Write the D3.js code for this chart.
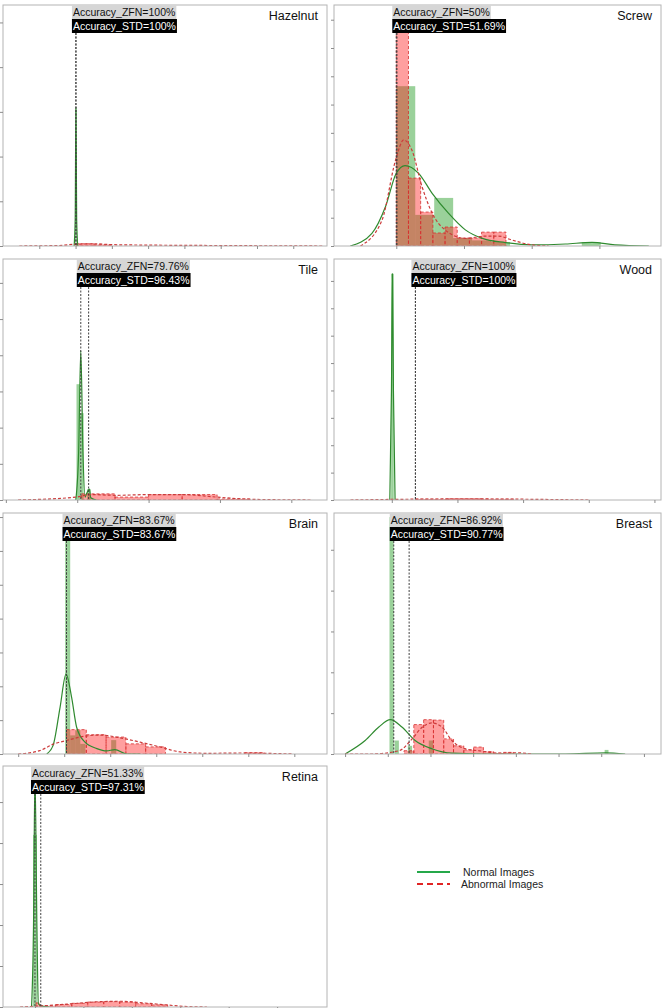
<!DOCTYPE html>
<html lang="en">
<head>
<meta charset="utf-8">
<script src="https://d3js.org/d3.v7.min.js"></script>
<style>
body { margin: 0; background: #fff; }
svg { display: block; font-family: "Liberation Sans", Arial, sans-serif; }
.frame { fill: none; stroke: #b4b4b4; stroke-width: 1; }
.axis path { display: none; }
.axis line { stroke: #8c8c8c; }
</style>
</head>
<body>
<svg id="chart" width="664" height="1008"></svg>
<script>
// panels, left to right then top to bottom
var panelNames = ["Hazelnut", "Screw", "Tile", "Wood", "Brain", "Breast", "Retina"];
var accZFN = ["100%", "50%", "79.76%", "100%", "83.67%", "86.92%", "51.33%"];
var accSTD = ["100%", "51.69%", "96.43%", "100%", "83.67%", "90.77%", "97.31%"];
// threshold positions (x units of each panel)
var thrZFN = [2.01, 0.0, 1.05, 1.36, 1.05, 1.14, 0.0];
var thrSTD = [2.01, 0.01, 1.16, 1.36, 1.05, 1.50, 0.12];

var xDomains = [[0, 8.93], [-0.92, 3.91], [-0.04, 4.5], [0.12, 5.1], [-0.33, 6.71], [-0.26, 7.4], [-0.66, 6.03]];
var yMax = [5.39, 8.52, 6.66, 8.8, 7.12, 5.9, 5.88];
var xTicks = [[1, 2, 3, 4, 5, 6, 7, 8], [0, 1, 2, 3], [0, 1, 2, 3, 4], [1, 2, 3, 4, 5],
              [0, 1, 2, 3, 4, 5, 6], [0, 1, 2, 3, 4, 5, 6, 7], [0, 1, 2, 3, 4, 5]];

// histogram bins: [x0, x1, height]
var hazelnutNormal = [[1.99, 2.03, 3.05]];
var hazelnutAbnormal = [[2.02, 2.5, 0.05], [2.5, 3.0, 0.03]];
var screwNormal = [[0, 0.28, 5.65], [0.28, 0.56, 1.1], [0.56, 0.84, 1.7], [0.84, 1.12, 0.28],
                   [1.12, 1.40, 0.2], [1.40, 1.68, 0.14], [2.74, 3.02, 0.14]];
var screwAbnormal = [[0, 0.18, 7.7], [0.18, 0.36, 2.4], [0.36, 0.54, 1.2], [0.54, 0.72, 0.46],
                     [0.72, 0.90, 0.67], [0.90, 1.08, 0.28], [1.08, 1.26, 0.28], [1.26, 1.44, 0.49], [1.44, 1.62, 0.49]];
var tileNormal = [[0.99, 1.04, 3.2], [1.04, 1.09, 2.4], [1.14, 1.19, 0.3]];
var tileAbnormal = [[1.06, 1.53, 0.17], [1.53, 2.0, 0.08], [2.0, 2.47, 0.15], [2.47, 2.96, 0.15], [2.96, 3.42, 0.03]];
var woodNormal = [[0.99, 1.03, 8.26]];
var woodAbnormal = [[1.36, 1.86, 0.03], [1.86, 2.36, 0.04], [2.36, 2.86, 0.03]];
var brainNormal = [[1.02, 1.13, 7.1], [1.13, 1.24, 0.55], [1.24, 1.35, 0.7], [1.35, 1.46, 0.3], [2.02, 2.13, 0.41]];
var brainAbnormal = [[1.05, 1.48, 0.72], [1.48, 1.91, 0.57], [1.91, 2.34, 0.50], [2.34, 2.77, 0.30],
                     [2.77, 3.20, 0.21], [4.92, 5.35, 0.04]];
var breastNormal = [[1.04, 1.14, 5.8], [1.16, 1.26, 0.33], [1.47, 1.57, 0.2], [1.96, 2.06, 0.33], [6.08, 6.17, 0.1]];
var breastAbnormal = [[1.38, 1.61, 0.08], [1.61, 1.84, 0.72], [1.84, 2.07, 0.84], [2.07, 2.31, 0.83], [2.31, 2.54, 0.37],
                      [2.54, 2.78, 0.2], [2.78, 3.01, 0.1], [3.01, 3.24, 0.17], [3.24, 3.48, 0.06], [3.48, 3.71, 0.02], [3.71, 3.95, 0.04]];
var retinaNormal = [[-0.04, 0.04, 4.2]];
var retinaAbnormal = [[0.02, 0.10, 0.1], [0.10, 0.43, 0.03], [0.43, 0.76, 0.06], [0.76, 1.09, 0.09], [1.09, 1.42, 0.12],
                      [1.42, 1.75, 0.13], [1.75, 2.08, 0.12], [2.08, 2.41, 0.08], [2.41, 2.74, 0.05]];

// kde curves: [x, density]
var hazelnutNormalKde = [[1.96, 0], [1.99, 0.6], [2.01, 3.09], [2.03, 0.6], [2.06, 0]];
var hazelnutAbnormalKde = [[0.45, 0], [1.5, 0.01], [2.0, 0.04], [2.5, 0.05], [3.0, 0.03], [4.0, 0.02], [6.0, 0.01], [8.8, 0]];
var screwNormalKde = [[-0.68, 0], [-0.36, 0.45], [-0.16, 1.39], [0.0, 2.57], [0.13, 2.84], [0.33, 2.57], [0.53, 1.86],
                      [0.77, 1.16], [1.02, 0.57], [1.27, 0.27], [1.61, 0.12], [2.0, 0.04], [2.5, 0.07], [2.89, 0.13], [3.23, 0.04], [3.73, 0]];
var screwAbnormalKde = [[-0.53, 0], [-0.21, 0.92], [-0.01, 3.04], [0.11, 3.75], [0.23, 3.39], [0.38, 2.10], [0.53, 1.16],
                        [0.72, 0.57], [1.02, 0.27], [1.31, 0.35], [1.51, 0.35], [1.71, 0.21], [2.0, 0.04], [2.25, 0]];
var tileNormalKde = [[0.98, 0], [1.02, 1.33], [1.05, 4.13], [1.08, 1.33], [1.11, 0.08], [1.13, 0.17], [1.17, 0.30], [1.19, 0.06], [1.27, 0]];
var tileAbnormalKde = [[0.17, 0], [0.99, 0.08], [1.18, 0.15], [1.55, 0.13], [2.02, 0.15], [2.49, 0.15], [2.96, 0.08], [3.42, 0.02], [4.27, 0]];
var woodNormalKde = [[0.97, 0], [0.995, 4], [1.01, 8.26], [1.025, 4], [1.05, 0]];
var woodAbnormalKde = [[0.37, 0], [1.36, 0.03], [2.12, 0.04], [2.93, 0.03], [4.0, 0]];
var brainNormalKde = [[0.62, 0], [0.76, 0.26], [0.91, 1.38], [1.04, 2.36], [1.16, 1.68], [1.27, 0.79], [1.45, 0.35],
                      [1.71, 0.16], [1.92, 0.09], [2.10, 0.13], [2.36, 0], [2.65, 0]];
var brainAbnormalKde = [[0.0, 0], [0.47, 0.1], [0.76, 0.29], [1.05, 0.40], [1.42, 0.52], [1.78, 0.56], [2.21, 0.48],
                        [2.65, 0.35], [3.08, 0.21], [3.52, 0.06], [4.1, 0.02], [4.97, 0.03], [5.4, 0.02], [5.97, 0]];
var breastNormalKde = [[0, 0], [0.47, 0.33], [0.79, 0.66], [1.06, 0.84], [1.33, 0.66], [1.64, 0.33], [2.03, 0.13],
                       [2.5, 0.02], [3.2, 0], [5.16, 0], [6.1, 0.03], [6.56, 0]];
var breastAbnormalKde = [[0.0, 0], [0.63, 0], [1.26, 0.08], [1.57, 0.37], [1.80, 0.65], [2.03, 0.76], [2.27, 0.66], [2.50, 0.33],
                         [2.81, 0.13], [3.21, 0.07], [3.60, 0.02], [3.99, 0.03], [4.38, 0]];
var retinaNormalKde = [[-0.07, 0], [-0.03, 1.96], [0.0, 5.7], [0.04, 1.96], [0.07, 0.08], [0.14, 0.02], [0.3, 0]];
var retinaAbnormalKde = [[-0.31, 0], [0.04, 0.02], [0.66, 0.07], [1.34, 0.13], [1.76, 0.14], [2.24, 0.1], [2.72, 0.05], [3.14, 0.01], [3.55, 0]];

var normalBins = [hazelnutNormal, screwNormal, tileNormal, woodNormal, brainNormal, breastNormal, retinaNormal];
var abnormalBins = [hazelnutAbnormal, screwAbnormal, tileAbnormal, woodAbnormal, brainAbnormal, breastAbnormal, retinaAbnormal];
var normalKde = [hazelnutNormalKde, screwNormalKde, tileNormalKde, woodNormalKde, brainNormalKde, breastNormalKde, retinaNormalKde];
var abnormalKde = [hazelnutAbnormalKde, screwAbnormalKde, tileAbnormalKde, woodAbnormalKde, brainAbnormalKde, breastAbnormalKde, retinaAbnormalKde];

var legendLabels = ["Normal Images", "Abnormal Images"];

// grid layout
var colLeft = [3, 334], colWidth = [324, 327];
var rowTop = [5, 259, 513, 766], rowHeight = 241;

var svg = d3.select("#chart");

panelNames.forEach(function(name, i) {
  var col = i % 2, row = Math.floor(i / 2);
  var w = colWidth[col], h = rowHeight;
  var g = svg.append("g").attr("transform", "translate(" + colLeft[col] + "," + rowTop[row] + ")");

  var x = d3.scaleLinear().domain(xDomains[i]).range([0, w]);
  var y = d3.scaleLinear().domain([0, yMax[i]]).range([h, 0]);

  g.append("clipPath").attr("id", "clip" + i)
    .append("rect").attr("width", w).attr("height", h);
  var plot = g.append("g").attr("clip-path", "url(#clip" + i + ")");

  // normal histogram
  plot.selectAll(".nbar").data(normalBins[i]).enter().append("rect")
    .attr("x", function(d) { return x(d[0]); })
    .attr("width", function(d) { return Math.max(1, x(d[1]) - x(d[0])); })
    .attr("y", function(d) { return y(d[2]); })
    .attr("height", function(d) { return h - y(d[2]); })
    .attr("fill", "#1f9a1f").attr("fill-opacity", 0.45);

  // abnormal histogram with dashed edges
  plot.selectAll(".abar").data(abnormalBins[i]).enter().append("rect")
    .attr("x", function(d) { return x(d[0]); })
    .attr("width", function(d) { return x(d[1]) - x(d[0]); })
    .attr("y", function(d) { return y(d[2]); })
    .attr("height", function(d) { return h - y(d[2]); })
    .attr("fill", "#ff1a1a").attr("fill-opacity", 0.42)
    .attr("stroke", "#d63030").attr("stroke-width", 0.8).attr("stroke-dasharray", "3,2");

  var line = d3.line()
    .x(function(d) { return x(d[0]); })
    .y(function(d) { return y(d[1]); })
    .curve(d3.curveMonotoneX);

  plot.append("path").datum(normalKde[i]).attr("d", line)
    .attr("fill", "none").attr("stroke", "#2f8a2f").attr("stroke-width", 1.2);
  plot.append("path").datum(abnormalKde[i]).attr("d", line)
    .attr("fill", "none").attr("stroke", "#cc3b3b").attr("stroke-width", 1.2)
    .attr("stroke-dasharray", "3,2");

  // threshold lines
  [thrZFN[i], thrSTD[i]].forEach(function(t) {
    plot.append("line")
      .attr("x1", x(t)).attr("x2", x(t)).attr("y1", 0).attr("y2", h)
      .attr("stroke", "#404040").attr("stroke-width", 1).attr("stroke-dasharray", "2,1.5");
  });

  // frame and ticks
  g.append("rect").attr("class", "frame").attr("width", w).attr("height", h);
  g.append("g").attr("class", "axis")
    .call(d3.axisLeft(y).tickValues(d3.range(0, Math.floor(yMax[i]) + 1)).tickSize(3).tickFormat(""));
  g.append("g").attr("class", "axis").attr("transform", "translate(0," + h + ")")
    .call(d3.axisBottom(x).tickValues(xTicks[i]).tickSize(3).tickFormat(""));

  // title
  g.append("text").attr("x", w - 9).attr("y", 15).attr("text-anchor", "end")
    .style("font-size", "12.5px").attr("fill", "#111").text(name);

  // accuracy labels
  var lx = x(thrZFN[i]) - 4;
  var labels = [["Accuracy_ZFN=" + accZFN[i], "#d6d6d6", "#111"], ["Accuracy_STD=" + accSTD[i], "#000", "#fff"]];
  labels.forEach(function(l, k) {
    var box = g.append("rect").attr("x", lx).attr("y", k * 14).attr("height", 14).attr("fill", l[1]);
    var t = g.append("text").attr("x", lx + 1).attr("y", k * 14 + 11)
      .style("font-size", "10.5px").attr("fill", l[2]).text(l[0]);
    box.attr("width", t.node().getComputedTextLength() + 2);
  });
});

// legend
var legend = svg.append("g").attr("transform", "translate(417,872)");
legend.append("line").attr("x1", 0).attr("x2", 33).attr("y1", 0).attr("y2", 0)
  .attr("stroke", "#25a84a").attr("stroke-width", 2);
legend.append("line").attr("x1", 0).attr("x2", 33).attr("y1", 12).attr("y2", 12)
  .attr("stroke", "#e02424").attr("stroke-width", 2).attr("stroke-dasharray", "6,4");
legend.append("text").attr("x", 46).attr("y", 4).style("font-size", "10.5px").attr("fill", "#222").text(legendLabels[0]);
legend.append("text").attr("x", 44).attr("y", 16).style("font-size", "10.5px").attr("fill", "#222").text(legendLabels[1]);
</script>
</body>
</html>
